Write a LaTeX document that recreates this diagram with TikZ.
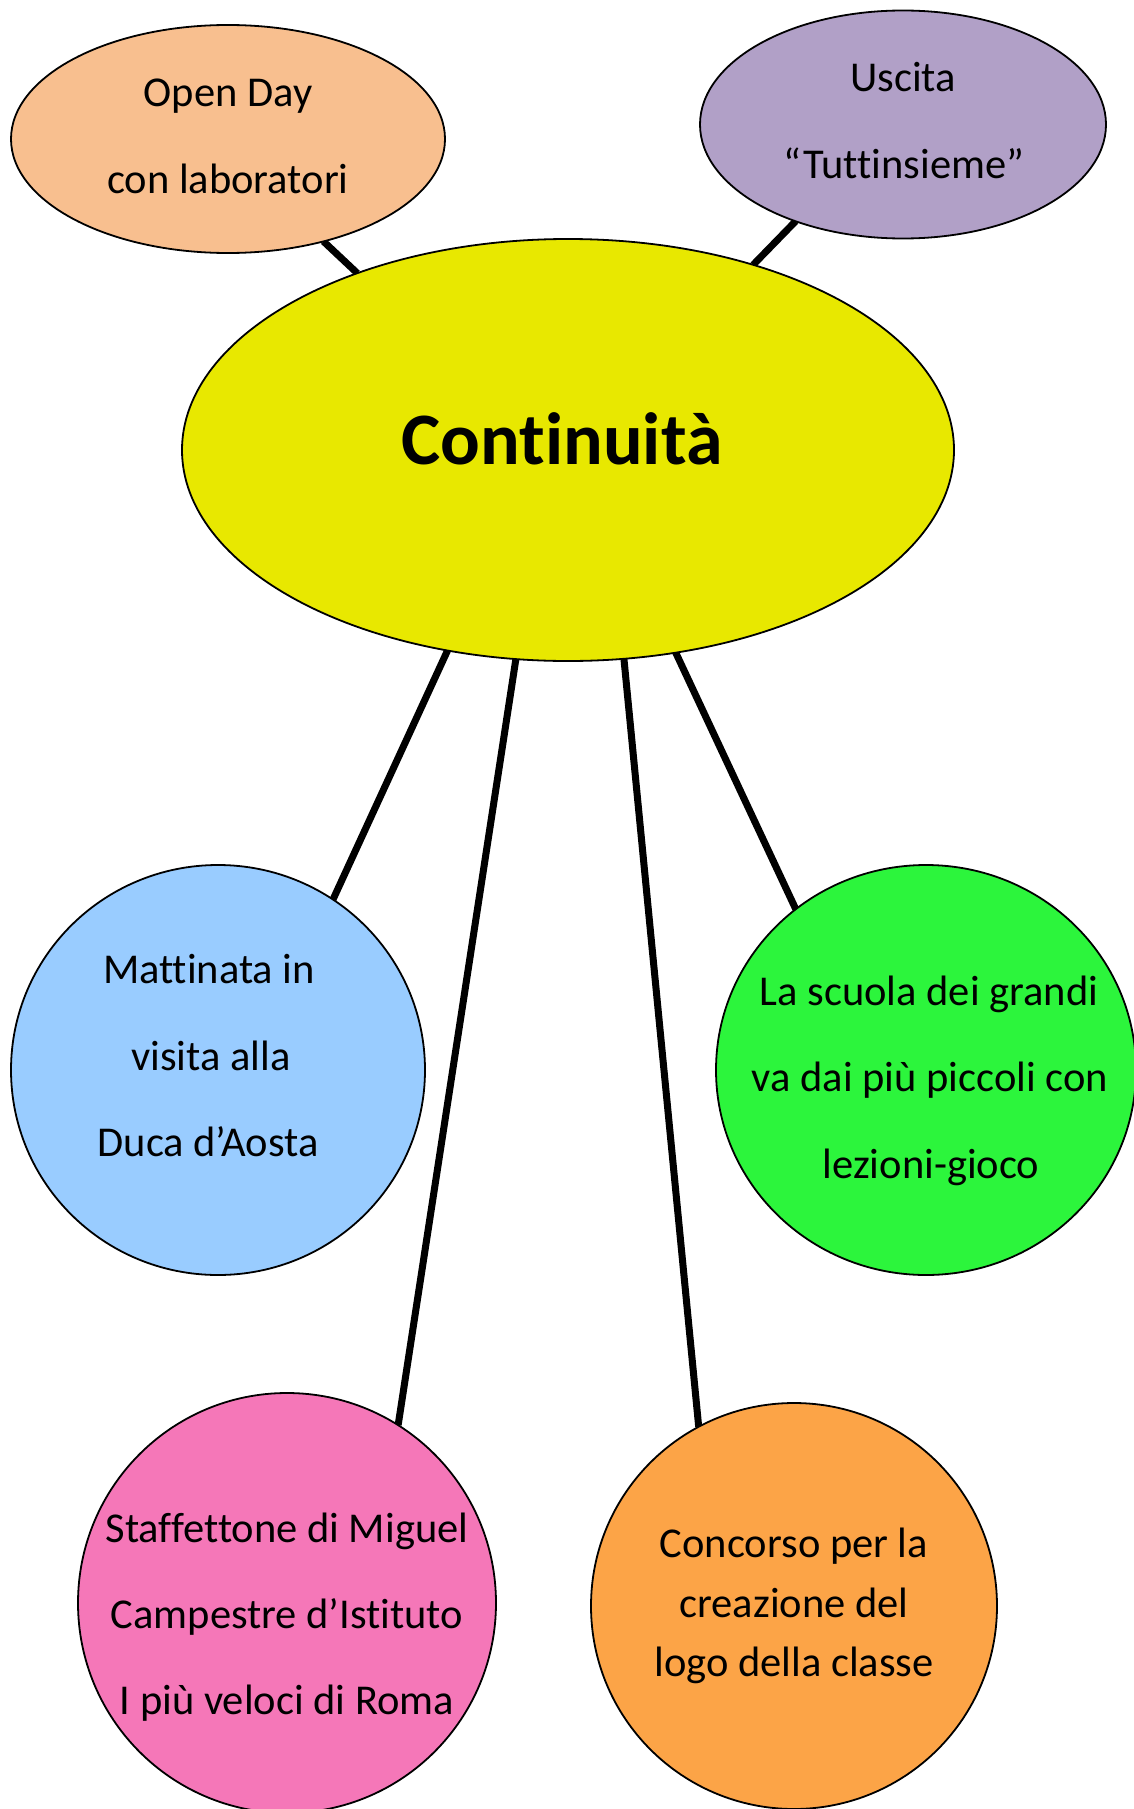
\documentclass[tikz,border=0pt]{standalone}
\usepackage{fontspec}
\setmainfont{Carlito}[Ligatures=NoCommon,RawFeature={-clig;-dlig;-calt}]
\usetikzlibrary{shapes.geometric,backgrounds}
\definecolor{cpeach}{HTML}{F8BF8F}
\definecolor{clav}{HTML}{B1A0C7}
\definecolor{cyel}{HTML}{E8E800}
\definecolor{cblue}{HTML}{99CCFF}
\definecolor{cgreen}{HTML}{2CF53C}
\definecolor{cpink}{HTML}{F577B8}
\definecolor{corange}{HTML}{FCA447}
\begin{document}
\begin{tikzpicture}[x=1pt,y=-1pt,
  bubble/.style={ellipse,draw=black,line width=1.8pt,inner sep=0pt,outer sep=0pt},
  link/.style={line width=7pt},
  lbl/.style={anchor=base,inner sep=0pt,font=\fontsize{42.5}{50}\selectfont},
  ttl/.style={anchor=base,inner sep=0pt,font=\fontsize{74}{88}\selectfont\bfseries}]
\useasboundingbox (0,0) rectangle (1134,1809);
\begin{scope}
\clip (0,0) rectangle (1134,1809);
\node[bubble,fill=cpeach,minimum width=434pt,minimum height=228pt] (open) at (228,139) {};
\node[bubble,fill=clav,minimum width=406pt,minimum height=228pt] (usc) at (903,124.5) {};
\node[bubble,fill=cyel,minimum width=772pt,minimum height=422pt] (cen) at (568,450) {};
\node[bubble,fill=cblue,minimum width=414pt,minimum height=410pt] (blu) at (218,1070) {};
\node[bubble,fill=cgreen,minimum width=420pt,minimum height=410pt] (grn) at (926,1070) {};
\node[bubble,fill=cpink,minimum width=418pt,minimum height=420pt] (pnk) at (287,1603) {};
\node[bubble,fill=corange,minimum width=406pt,minimum height=406pt] (org) at (794,1606) {};
\end{scope}
\begin{pgfonlayer}{background}
\fill[white] (0,0) rectangle (1134,1809);
\draw[link] (cen.140) -- (open.-47);
\draw[link] (cen.45) -- (usc.222);
\draw[link] (cen.239) -- (blu.56);
\draw[link] (cen.256.2) -- (pnk.58);
\draw[link] (cen.285.6) -- (org.118);
\draw[link] (cen.298) -- (grn.129.5);
\end{pgfonlayer}
\node[ttl] (t0) at (562,464) {Continuità};
\node[lbl] (o1) at (228,107) {Open Day};
\node[lbl] (o2) at (228,193) {con laboratori};
\node[lbl] (u1) at (903,92) {Uscita};
\node[lbl] (u2) at (904,178) {“Tuttinsieme”};
\node[lbl] (b1) at (209,983) {Mattinata in};
\node[lbl] (b2) at (211,1070) {visita alla};
\node[lbl] (b3) at (208,1156) {Duca d’Aosta};
\node[lbl] (g1) at (929,1005) {La scuola dei grandi};
\node[lbl] (g2) at (930,1091) {va dai più piccoli con};
\node[lbl] (g3) at (931,1178) {lezioni-gioco};
\node[lbl] (p1) at (287,1542) {Staffettone di Miguel};
\node[lbl] (p2) at (287,1628) {Campestre d’Istituto};
\node[lbl] (p3) at (287,1714) {I più veloci di Roma};
\node[lbl] (r1) at (794,1557) {Concorso per la};
\node[lbl] (r2) at (794,1617) {creazione del};
\node[lbl] (r3) at (794,1676) {logo della classe};
\end{tikzpicture}
\end{document}
